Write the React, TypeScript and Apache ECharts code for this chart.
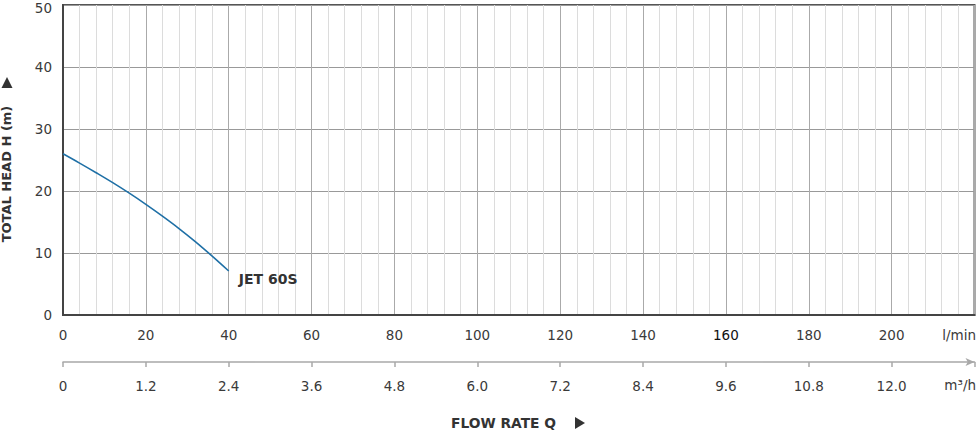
import React, { useEffect, useRef } from "react";
import * as echarts from "echarts";

const flowLmin = [0, 4, 8, 12, 16, 20, 24, 28, 32, 36, 40];
const headM = [26, 24.5, 22.95, 21.35, 19.65, 17.85, 15.95, 13.95, 11.8, 9.5, 7.1];
const seriesName = "JET 60S";
const yTitle = "TOTAL HEAD H (m)";
const xTitle = "FLOW RATE Q";
const unitTop = "l/min";
const unitBottom = "m³/h";
const lminToM3h = 0.06;

const FONT = "'DejaVu Sans', 'Liberation Sans', sans-serif";

export default function App() {
  const ref = useRef<HTMLDivElement>(null);
  useEffect(() => {
    if (!ref.current) return;
    const chart = echarts.init(ref.current, undefined, { renderer: "svg" });
    const data = flowLmin.map((x, i) => [x, headM[i]]);
    chart.setOption({
      animation: false,
      textStyle: { fontFamily: FONT },
      grid: {
        left: 63,
        right: 5.5,
        top: 5,
        bottom: 117,
        show: true,
        borderColor: "#555",
        borderWidth: 2,
        containLabel: false,
        outerBoundsMode: "none",
      },
      xAxis: [
        {
          type: "value",
          min: 0,
          max: 220,
          interval: 20,
          position: "bottom",
          axisLine: { show: true, onZero: false, lineStyle: { color: "#444", width: 2 } },
          axisTick: { show: false },
          minorTick: { show: false, splitNumber: 5 },
          axisLabel: {
            margin: 13,
            fontSize: 13.5,
            color: "#3a3a3a",
            fontFamily: FONT,
            formatter: (v: number) => (v === 220 ? "" : v === 160 ? "{d|160}" : String(v)),
            rich: { d: { color: "#111", fontSize: 13.5, fontFamily: FONT } },
          },
          splitLine: { show: true, lineStyle: { color: "#aaa", width: 1 } },
          minorSplitLine: { show: true, lineStyle: { color: "#dcdcdc", width: 1 } },
        },
        {
          type: "value",
          min: 0,
          max: 220,
          interval: 20,
          position: "bottom",
          offset: 47,
          axisLine: {
            show: true,
            onZero: false,
            symbol: ["none", "arrow"],
            symbolSize: [6, 9],
            lineStyle: { color: "#a8a8a8", width: 1.5 },
          },
          axisTick: { show: true, length: 5, lineStyle: { color: "#a8a8a8", width: 1.5 } },
          axisLabel: {
            margin: 17,
            fontSize: 13.5,
            color: "#3a3a3a",
            fontFamily: FONT,
            formatter: (v: number) =>
              v === 0 ? "0" : v === 220 ? "" : (v * lminToM3h).toFixed(1),
          },
          splitLine: { show: false },
        },
      ],
      yAxis: {
        type: "value",
        min: 0,
        max: 50,
        interval: 10,
        axisLine: { show: true, lineStyle: { color: "#444", width: 2 } },
        axisTick: { show: false },
        axisLabel: {
          margin: 11,
          fontSize: 13.5,
          color: "#3a3a3a",
          fontFamily: FONT,
          formatter: (v: number) => (v === 50 ? "{t|50}" : String(v)),
          rich: {
            t: { fontSize: 13.5, color: "#3a3a3a", fontFamily: FONT, padding: [6, 0, 0, 0] },
          },
        },
        splitLine: { show: true, lineStyle: { color: "#999", width: 1 } },
      },
      series: [
        {
          type: "line",
          name: seriesName,
          xAxisIndex: 0,
          data,
          smooth: 0.4,
          showSymbol: false,
          lineStyle: { color: "#1f70a6", width: 1.6 },
          itemStyle: { color: "#1f70a6" },
          endLabel: {
            show: true,
            formatter: seriesName,
            distance: 8,
            offset: [2, 8],
            fontSize: 14,
            fontWeight: "bold",
            color: "#333",
            fontFamily: FONT,
          },
        },
      ],
      graphic: [
        {
          type: "text",
          x: 6,
          y: 174,
          rotation: Math.PI / 2,
          style: {
            text: yTitle,
            fontSize: 13,
            fontWeight: "bold",
            fill: "#333",
            fontFamily: FONT,
            textAlign: "center",
            textVerticalAlign: "middle",
          },
        },
        {
          type: "polygon",
          shape: { points: [[1.5, 88], [12.5, 88], [7, 77]] },
          style: { fill: "#333" },
        },
        {
          type: "text",
          x: 451,
          y: 423,
          style: {
            text: xTitle,
            fontSize: 13.8,
            fontWeight: "bold",
            fill: "#333",
            fontFamily: FONT,
            textAlign: "left",
            textVerticalAlign: "middle",
          },
        },
        {
          type: "polygon",
          shape: { points: [[575, 417], [575, 429], [585, 423]] },
          style: { fill: "#333" },
        },
        {
          type: "text",
          x: 976,
          y: 335,
          style: {
            text: unitTop,
            fontSize: 13.5,
            fill: "#3a3a3a",
            fontFamily: FONT,
            textAlign: "right",
            textVerticalAlign: "middle",
          },
        },
        {
          type: "text",
          x: 976,
          y: 385,
          style: {
            text: unitBottom,
            fontSize: 13.5,
            fill: "#3a3a3a",
            fontFamily: FONT,
            textAlign: "right",
            textVerticalAlign: "middle",
          },
        },
      ],
    });
    return () => chart.dispose();
  }, []);
  return (
    <div
      ref={ref}
      style={{ position: "fixed", left: 0, top: 0, width: 980, height: 432, background: "#fff" }}
    />
  );
}
